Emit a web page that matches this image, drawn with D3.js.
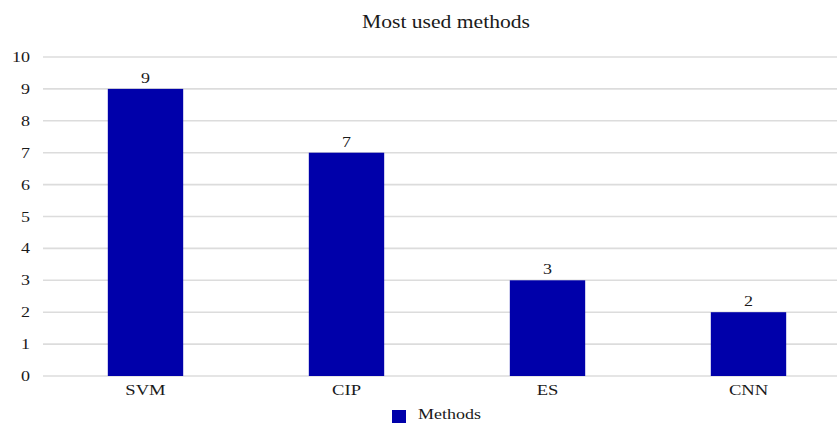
<!DOCTYPE html>
<html><head><meta charset="utf-8">
<script src="https://cdn.jsdelivr.net/npm/d3@7"></script>
<style>body{margin:0;background:#fff}svg{display:block}</style>
</head><body>
<script>
const categories = ["SVM", "CIP", "ES", "CNN"];
const values = [9, 7, 3, 2];
const yTicks = [0,1,2,3,4,5,6,7,8,9,10];
const seriesName = "Methods";
const title = "Most used methods";

const W = 837, H = 423;
const font = "'Liberation Serif','Times New Roman',serif";
const sx = 1.2;
const svg = d3.select("body").append("svg").attr("width", W).attr("height", H);

const y = d3.scaleLinear().domain([0, 10]).range([376, 57]);
const x = d3.scaleBand().domain(categories).range([45, 849]).paddingInner(0.625).paddingOuter(0.3125);

function stext(g, tx, ty, str, size, anchor) {
  return g.append("text")
    .attr("transform", `translate(${tx},${ty}) scale(${sx},1)`)
    .attr("text-anchor", anchor || "middle")
    .attr("font-family", font).attr("font-size", size).attr("fill", "#1a1a1a")
    .text(str);
}

// gridlines
svg.append("g").selectAll("line").data(yTicks).join("line")
  .attr("x1", 43).attr("x2", W)
  .attr("y1", d => y(d)).attr("y2", d => y(d))
  .attr("stroke", "#dcdcdc").attr("stroke-width", 1.6);

// y tick labels
const yl = svg.append("g");
yTicks.forEach(t => stext(yl, 30, y(t) + 5, String(t), 15, "end"));

// bars
svg.append("g").selectAll("rect").data(values).join("rect")
  .attr("x", (d, i) => x(categories[i]))
  .attr("width", x.bandwidth())
  .attr("y", d => y(d))
  .attr("height", d => y(0) - y(d))
  .attr("fill", "#0000aa");

// value labels
const vl = svg.append("g");
values.forEach((v, i) => stext(vl, x(categories[i]) + x.bandwidth() / 2, y(v) - 6, String(v), 15));

// category labels
const cl = svg.append("g");
categories.forEach(c => stext(cl, x(c) + x.bandwidth() / 2, 395, c, 15.5));

// title
stext(svg, 446, 28, title, 18);

// legend
svg.append("rect").attr("x", 392).attr("y", 410).attr("width", 14).attr("height", 13).attr("fill", "#0000aa");
stext(svg, 418, 419, seriesName, 15, "start");
</script>
</body></html>
